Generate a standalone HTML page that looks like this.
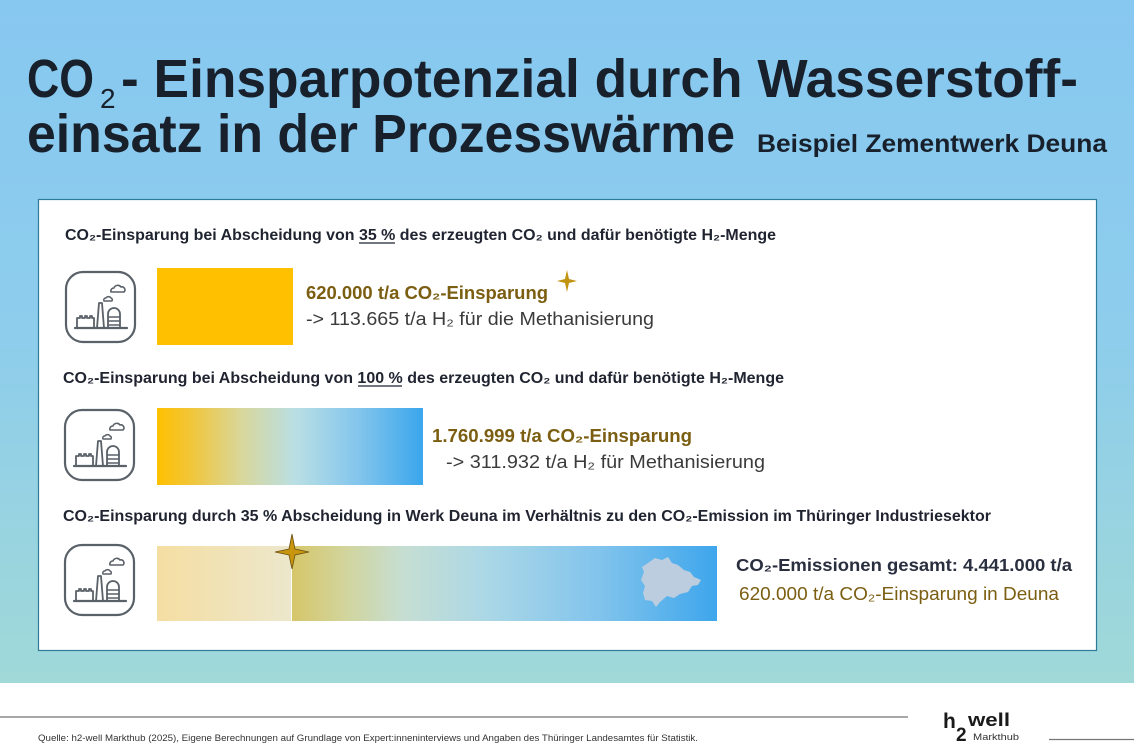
<!DOCTYPE html>
<html>
<head>
<meta charset="utf-8">
<style>
html,body{margin:0;padding:0;width:1134px;height:756px;overflow:hidden;background:#fff;}
svg{display:block;}
text{font-family:"Liberation Sans","DejaVu Sans",sans-serif;}
</style>
</head>
<body>
<svg width="1134" height="756" viewBox="0 0 1134 756" xmlns="http://www.w3.org/2000/svg">
<defs>
  <linearGradient id="bg" x1="0" y1="0" x2="0" y2="1">
    <stop offset="0" stop-color="#87c8f1"/>
    <stop offset="0.5" stop-color="#8ecdeb"/>
    <stop offset="1" stop-color="#a0d9d8"/>
  </linearGradient>
  <linearGradient id="g2" x1="0" y1="0" x2="1" y2="0">
    <stop offset="0" stop-color="#ffc000"/>
    <stop offset="0.12" stop-color="#f2c536"/>
    <stop offset="0.32" stop-color="#d8d79c"/>
    <stop offset="0.52" stop-color="#b9dfe4"/>
    <stop offset="0.75" stop-color="#85c6ec"/>
    <stop offset="1" stop-color="#3aa6ec"/>
  </linearGradient>
  <linearGradient id="g3a" x1="0" y1="0" x2="1" y2="0">
    <stop offset="0" stop-color="#f5dea2"/>
    <stop offset="1" stop-color="#ece7cc"/>
  </linearGradient>
  <linearGradient id="g3b" x1="0" y1="0" x2="1" y2="0">
    <stop offset="0" stop-color="#d6c66a"/>
    <stop offset="0.12" stop-color="#d2d49a"/>
    <stop offset="0.26" stop-color="#c6ded2"/>
    <stop offset="0.45" stop-color="#acd8e6"/>
    <stop offset="0.72" stop-color="#82c4ec"/>
    <stop offset="1" stop-color="#3ea6ec"/>
  </linearGradient>
  <g id="icon" fill="none" stroke="#5a6168" stroke-width="2.2" stroke-linejoin="round" stroke-linecap="round">
    <rect x="0" y="0" width="69" height="70" rx="17"/>
    <line x1="9" y1="56" x2="61" y2="56"/>
    <path d="M11,56 V46 h3 v-2 h2 v2 h3 v-2 h2 v2 h3 v-2 h2 v2 h2 V56" stroke-width="1.8"/>
    <path d="M31,56 L33,31 h3 L38,56" stroke-width="1.8"/>
    <path d="M42,56 V42 a6,6 0 0 1 12,0 V56" stroke-width="1.8"/>
    <path d="M42,45 h12 M42,49 h12 M42,53 h12" stroke-width="1.4"/>
    <path d="M45,20 a3,3 0 0 1 3,-4 a4,4 0 0 1 7,-1 a3,3 0 0 1 3,5 z" stroke-width="1.6"/>
    <path d="M38,29 a2,2 0 0 1 2,-3 a3,3 0 0 1 5,0 a2,2 0 0 1 1,3 z" stroke-width="1.5"/>
  </g>
</defs>

<!-- background -->
<rect x="0" y="0" width="1134" height="683" fill="url(#bg)"/>
<rect x="0" y="683" width="1134" height="73" fill="#ffffff"/>

<!-- Title -->
<text x="27" y="97" font-size="54" font-weight="bold" fill="#17202b" textLength="67" lengthAdjust="spacingAndGlyphs">CO</text>
<text x="100" y="108" font-size="28" fill="#17202b">2</text>
<text x="121" y="97" font-size="54" font-weight="bold" fill="#17202b" textLength="957" lengthAdjust="spacingAndGlyphs">- Einsparpotenzial durch Wasserstoff-</text>
<text x="27" y="152" font-size="54" font-weight="bold" fill="#17202b" textLength="708" lengthAdjust="spacingAndGlyphs">einsatz in der Prozesswärme</text>
<text x="757" y="152" font-size="25" font-weight="bold" fill="#17202b" textLength="350" lengthAdjust="spacingAndGlyphs">Beispiel Zementwerk Deuna</text>

<!-- white box -->
<rect x="38.5" y="199.5" width="1058" height="451" fill="#ffffff" stroke="#2c7c99" stroke-width="1.2"/>

<!-- Section 1 -->
<text x="65" y="240" font-size="15.5" font-weight="bold" fill="#1f2430" textLength="711" lengthAdjust="spacingAndGlyphs">CO₂-Einsparung bei Abscheidung von 35 % des erzeugten CO₂ und dafür benötigte H₂-Menge</text>
<line x1="359" y1="243" x2="395" y2="243" stroke="#1f2430" stroke-width="1.2"/>
<use href="#icon" x="66" y="272"/>
<rect x="157" y="268" width="136" height="77" fill="#ffc000"/>
<text x="306" y="299" font-size="18" font-weight="bold" fill="#7b5e12" textLength="242" lengthAdjust="spacingAndGlyphs">620.000 t/a CO₂-Einsparung</text>
<text x="306" y="325" font-size="18" fill="#3b3b3b" textLength="348" lengthAdjust="spacingAndGlyphs">-&gt; 113.665 t/a H₂ für die Methanisierung</text>
<path d="M567,270 L569,279 L577,281 L569,283 L567,292 L565,283 L557,281 L565,279 Z" fill="#c2930f"/>

<!-- Section 2 -->
<text x="63" y="383" font-size="15.5" font-weight="bold" fill="#1f2430" textLength="721" lengthAdjust="spacingAndGlyphs">CO₂-Einsparung bei Abscheidung von 100 % des erzeugten CO₂ und dafür benötigte H₂-Menge</text>
<line x1="358" y1="386" x2="402" y2="386" stroke="#1f2430" stroke-width="1.2"/>
<use href="#icon" x="65" y="410"/>
<rect x="157" y="408" width="266" height="77" fill="url(#g2)"/>
<text x="432" y="442" font-size="18" font-weight="bold" fill="#7b5e12" textLength="260" lengthAdjust="spacingAndGlyphs">1.760.999 t/a CO₂-Einsparung</text>
<text x="446" y="468" font-size="18" fill="#3b3b3b" textLength="319" lengthAdjust="spacingAndGlyphs">-&gt; 311.932 t/a H₂ für Methanisierung</text>

<!-- Section 3 -->
<text x="63" y="521" font-size="15.5" font-weight="bold" fill="#1f2430" textLength="928" lengthAdjust="spacingAndGlyphs">CO₂-Einsparung durch 35 % Abscheidung in Werk Deuna im Verhältnis zu den CO₂-Emission im Thüringer Industriesektor</text>
<use href="#icon" x="65" y="545"/>
<rect x="157" y="546" width="134" height="75" fill="url(#g3a)"/>
<rect x="292" y="546" width="425" height="75" fill="url(#g3b)"/>
<polygon fill="#bccddf" points="648,563 655,558 662,560 668,557 672,563 678,565 684,570 690,572 694,577 701,580 698,585 692,586 688,592 680,594 674,598 667,596 660,602 656,607 652,601 645,600 643,593 645,586 641,580 644,572 642,567"/>
<path d="M292,534 L295,549 L309,552 L295,555 L292,569 L289,555 L275,552 L289,549 Z" fill="#c8950f" stroke="#6a5010" stroke-width="0.8"/>
<text x="736" y="571" font-size="17.5" font-weight="bold" fill="#2a2f3f" textLength="336" lengthAdjust="spacingAndGlyphs">CO₂-Emissionen gesamt: 4.441.000 t/a</text>
<text x="739" y="600" font-size="18" fill="#7b5e12" textLength="320" lengthAdjust="spacingAndGlyphs">620.000 t/a CO₂-Einsparung in Deuna</text>

<!-- Footer -->
<line x1="0" y1="717" x2="908" y2="717" stroke="#8a8a8a" stroke-width="1.5"/>
<text x="38" y="741" font-size="9" fill="#333" textLength="660" lengthAdjust="spacingAndGlyphs">Quelle: h2-well Markthub (2025), Eigene Berechnungen auf Grundlage von Expert:inneninterviews und Angaben des Thüringer Landesamtes für Statistik.</text>
<text x="943" y="728" font-size="21" font-weight="bold" fill="#1a1a1a">h</text>
<text x="956" y="741" font-size="19" font-weight="bold" fill="#1a1a1a">2</text>
<text x="968" y="726" font-size="18" font-weight="bold" fill="#1a1a1a" textLength="42" lengthAdjust="spacingAndGlyphs">well</text>
<text x="973" y="740" font-size="9.5" fill="#333" textLength="46" lengthAdjust="spacingAndGlyphs">Markthub</text>
<line x1="1049" y1="739.5" x2="1134" y2="739.5" stroke="#777" stroke-width="1.2"/>
</svg>
</body>
</html>
